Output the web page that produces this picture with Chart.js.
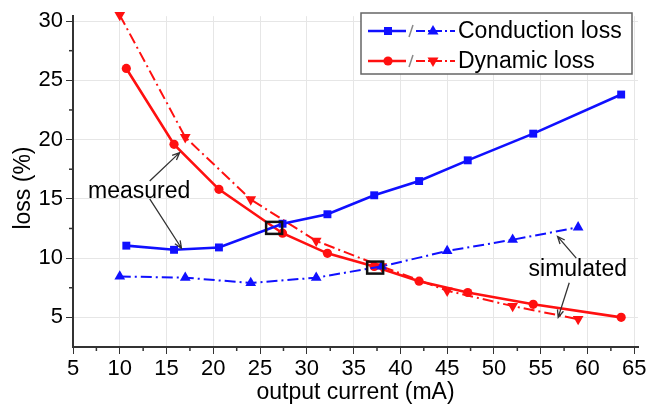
<!DOCTYPE html>
<html>
<head>
<meta charset="utf-8">
<script src="https://cdn.jsdelivr.net/npm/chart.js@4.4.1/dist/chart.umd.min.js"></script>
<style>
  html, body { margin: 0; padding: 0; background: #fff; }
  #wrap { width: 662px; height: 411px; }
</style>
</head>
<body>
<div id="wrap"><canvas id="lossChart"></canvas></div>
<script>
// measured points (mA, %)
const measCurrent = [10.7, 15.8, 20.6, 27.4, 32.2, 37.2, 42.0, 47.2, 54.2, 63.6];
const condMeasured = [11.05, 10.7, 10.9, 12.9, 13.7, 15.3, 16.5, 18.25, 20.5, 23.8];
const dynMeasured = [26.0, 19.6, 15.8, 12.1, 10.4, 9.3, 8.05, 7.1, 6.1, 5.0];

// simulated points
const simCurrent = [10, 17, 24, 31, 38, 45, 52, 59];
const condSimulated = [8.45, 8.35, 7.9, 8.35, 9.3, 10.6, 11.55, 12.6];
const dynSimulated = [30.5, 20.2, 14.95, 11.45, 9.3, 7.25, 5.95, 4.85];

const xTicks = [5, 10, 15, 20, 25, 30, 35, 40, 45, 50, 55, 60, 65];
const yTicks = [5, 10, 15, 20, 25, 30];

// crossing points marked with black boxes
const crossings = [[26.5, 12.55], [37.3, 9.2]];

// text notes and arrows (data coords)
const noteLabels = [
  { text: "measured", x: 12.07, y: 15.58 },
  { text: "simulated", x: 58.96, y: 9.0 }
];
const noteArrows = [
  [13.2, 16.5, 16.4, 18.9],
  [13.2, 15.0, 16.6, 10.83],
  [58.8, 10.0, 56.8, 11.83],
  [58.05, 7.92, 56.87, 5.0]
];

const FONT = "'Liberation Sans', Arial, sans-serif";
const BLUE = "#1010ff";
const RED = "#ff1010";
const DASHDOT = [11, 4, 2, 4];

const pts = (xs, ys) => xs.map((x, i) => ({ x: x, y: ys[i] }));

function marker(ctx, style, x, y, color) {
  ctx.save();
  ctx.fillStyle = color;
  ctx.setLineDash([]);
  ctx.beginPath();
  if (style === "rect") {
    ctx.rect(x - 4, y - 4, 8, 8);
  } else if (style === "circle") {
    ctx.arc(x, y, 4.6, 0, Math.PI * 2);
  } else if (style === "up") {
    ctx.moveTo(x, y - 6); ctx.lineTo(x + 5.5, y + 3.5); ctx.lineTo(x - 5.5, y + 3.5);
  } else {
    ctx.moveTo(x, y + 6); ctx.lineTo(x + 5.5, y - 3.5); ctx.lineTo(x - 5.5, y - 3.5);
  }
  ctx.closePath();
  ctx.fill();
  ctx.restore();
}

const extras = {
  id: "extras",
  afterDatasetsDraw(chart) {
    const { ctx, scales: { x, y }, chartArea } = chart;
    ctx.save();

    // minor ticks
    ctx.strokeStyle = "#333";
    ctx.lineWidth = 1.5;
    for (let i = 0; i < xTicks.length - 1; i++) {
      const px = x.getPixelForValue((xTicks[i] + xTicks[i + 1]) / 2);
      ctx.beginPath();
      ctx.moveTo(px, chartArea.bottom);
      ctx.lineTo(px, chartArea.bottom + 4);
      ctx.stroke();
    }
    for (let i = 0; i < yTicks.length - 1; i++) {
      const py = y.getPixelForValue((yTicks[i] + yTicks[i + 1]) / 2);
      ctx.beginPath();
      ctx.moveTo(chartArea.left, py);
      ctx.lineTo(chartArea.left - 4, py);
      ctx.stroke();
    }

    // y axis title (sits a bit below the middle in the original)
    ctx.fillStyle = "#000";
    ctx.font = "23px " + FONT;
    ctx.textAlign = "center";
    ctx.textBaseline = "middle";
    ctx.save();
    ctx.translate(24, 188);
    ctx.rotate(-Math.PI / 2);
    ctx.fillText("loss (%)", 0, 0);
    ctx.restore();

    // crossing boxes
    ctx.strokeStyle = "#111";
    ctx.lineWidth = 2.5;
    crossings.forEach(([cx, cy]) => {
      ctx.strokeRect(x.getPixelForValue(cx) - 8, y.getPixelForValue(cy) - 6, 16, 12);
    });

    // arrows
    ctx.strokeStyle = "#333";
    ctx.lineWidth = 1.3;
    noteArrows.forEach(([x0, y0, x1, y1]) => {
      const ax = x.getPixelForValue(x0), ay = y.getPixelForValue(y0);
      const bx = x.getPixelForValue(x1), by = y.getPixelForValue(y1);
      const ang = Math.atan2(by - ay, bx - ax);
      ctx.beginPath();
      ctx.moveTo(ax, ay);
      ctx.lineTo(bx, by);
      ctx.moveTo(bx - 8 * Math.cos(ang - 0.4), by - 8 * Math.sin(ang - 0.4));
      ctx.lineTo(bx, by);
      ctx.lineTo(bx - 8 * Math.cos(ang + 0.4), by - 8 * Math.sin(ang + 0.4));
      ctx.stroke();
    });

    // note text
    ctx.fillStyle = "#000";
    noteLabels.forEach(n => {
      ctx.fillText(n.text, x.getPixelForValue(n.x), y.getPixelForValue(n.y));
    });

    // legend
    const bx = 361, by = 13, bw = 271, bh = 61;
    ctx.fillStyle = "#fff";
    ctx.fillRect(bx, by, bw, bh);
    ctx.strokeStyle = "#666";
    ctx.lineWidth = 1.5;
    ctx.strokeRect(bx, by, bw, bh);
    const rows = [
      { name: "Conduction loss", color: BLUE, a: "rect", b: "up" },
      { name: "Dynamic loss", color: RED, a: "circle", b: "down" }
    ];
    rows.forEach((r, i) => {
      const ly = by + 18 + i * 30;
      ctx.strokeStyle = r.color;
      ctx.lineWidth = 2.5;
      ctx.setLineDash([]);
      ctx.beginPath(); ctx.moveTo(368, ly); ctx.lineTo(406, ly); ctx.stroke();
      marker(ctx, r.a, 388, ly, r.color);
      ctx.strokeStyle = "#888";
      ctx.lineWidth = 1.5;
      ctx.beginPath(); ctx.moveTo(409, ly + 6); ctx.lineTo(413, ly - 6); ctx.stroke();
      ctx.strokeStyle = r.color;
      ctx.lineWidth = 2;
      ctx.setLineDash([9, 3, 2, 3]);
      ctx.beginPath(); ctx.moveTo(416, ly); ctx.lineTo(455, ly); ctx.stroke();
      ctx.setLineDash([]);
      marker(ctx, r.b, 433, ly, r.color);
      ctx.fillStyle = "#000";
      ctx.textAlign = "left";
      ctx.fillText(r.name, 458, ly + 1);
    });

    ctx.restore();
  }
};

const axisTicks = vals => scale => { scale.ticks = vals.map(v => ({ value: v })); };

new Chart(document.getElementById("lossChart"), {
  type: "line",
  data: {
    datasets: [
      {
        label: "Conduction loss (simulated)",
        data: pts(simCurrent, condSimulated),
        borderColor: BLUE, backgroundColor: BLUE,
        borderWidth: 2, borderDash: DASHDOT,
        pointStyle: "triangle", pointRadius: 6.2, pointBorderWidth: 0,
        clip: false
      },
      {
        label: "Conduction loss",
        data: pts(measCurrent, condMeasured),
        borderColor: BLUE, backgroundColor: BLUE,
        borderWidth: 2.6,
        pointStyle: "rect", pointRadius: 5.6, pointBorderWidth: 0,
        clip: false
      },
      {
        label: "Dynamic loss (simulated)",
        data: pts(simCurrent, dynSimulated),
        borderColor: RED, backgroundColor: RED,
        borderWidth: 2, borderDash: DASHDOT,
        pointStyle: "triangle", pointRotation: 180, pointRadius: 6.2, pointBorderWidth: 0,
        clip: false
      },
      {
        label: "Dynamic loss",
        data: pts(measCurrent, dynMeasured),
        borderColor: RED, backgroundColor: RED,
        borderWidth: 2.6,
        pointStyle: "circle", pointRadius: 4.6, pointBorderWidth: 0,
        clip: false
      }
    ]
  },
  options: {
    responsive: true,
    maintainAspectRatio: false,
    animation: false,
    layout: { padding: { top: 10, right: 24, left: 0, bottom: 0 } },
    plugins: {
      legend: { display: false },
      tooltip: { enabled: false }
    },
    scales: {
      x: {
        type: "linear",
        min: 5,
        max: 65.4,
        afterBuildTicks: axisTicks(xTicks),
        afterFit: scale => { scale.height = 64; },
        grid: { color: "#e6e6e6", tickColor: "#333", tickLength: 7 },
        border: { color: "#333", width: 2 },
        ticks: { color: "#000", font: { family: FONT, size: 22 }, padding: 2, maxRotation: 0 },
        title: {
          display: true,
          text: "output current (mA)",
          color: "#000",
          font: { family: FONT, size: 23 },
          padding: { top: 0, bottom: 5 }
        }
      },
      y: {
        min: 2.5,
        max: 30.41,
        afterBuildTicks: axisTicks(yTicks),
        afterFit: scale => { scale.width = 73; },
        grid: { color: "#e6e6e6", tickColor: "#333", tickLength: 7 },
        border: { color: "#333", width: 2 },
        ticks: { color: "#000", font: { family: FONT, size: 22 }, padding: 3 },
        title: { display: false }
      }
    }
  },
  plugins: [extras]
});
</script>
</body>
</html>
